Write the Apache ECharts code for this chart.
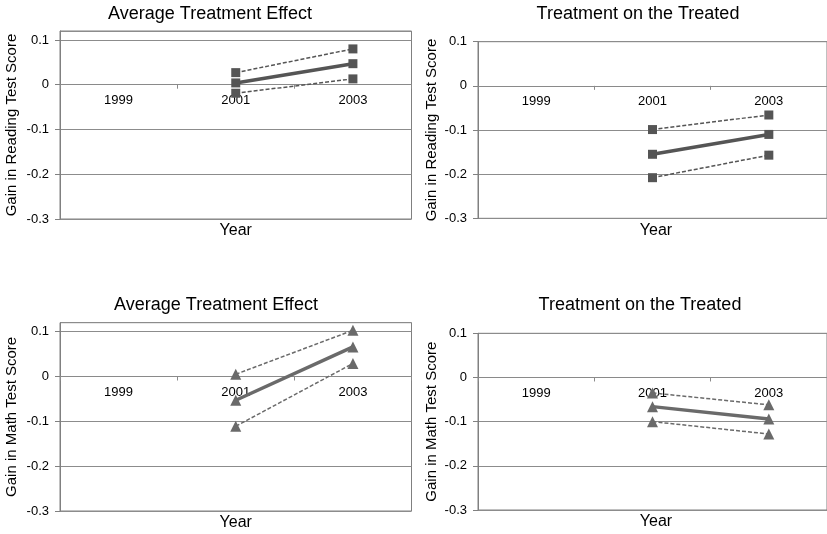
<!DOCTYPE html>
<html>
<head>
<meta charset="utf-8">
<script src="https://cdn.jsdelivr.net/npm/echarts@6/dist/echarts.min.js"></script>
<style>
html,body{margin:0;padding:0;background:#fff;}
#c{width:827px;height:534px;}
</style>
</head>
<body>
<div id="c"></div>
<script>
var years = ['1999', '2001', '2003'];
var yTicks = [-0.3, -0.2, -0.1, 0, 0.1];

var readAteUpper = [null, 0.027, 0.080];
var readAteMid   = [null, 0.004, 0.047];
var readAteLow   = [null, -0.019, 0.013];

var readTotUpper = [null, -0.099, -0.066];
var readTotMid   = [null, -0.155, -0.110];
var readTotLow   = [null, -0.208, -0.157];

var mathAteUpper = [null, 0.005, 0.103];
var mathAteMid   = [null, -0.053, 0.066];
var mathAteLow   = [null, -0.111, 0.029];

var mathTotUpper = [null, -0.035, -0.062];
var mathTotMid   = [null, -0.066, -0.094];
var mathTotLow   = [null, -0.100, -0.128];

var titles = ['Average Treatment Effect', 'Treatment on the Treated', 'Average Treatment Effect', 'Treatment on the Treated'];
var yNames = ['Gain in Reading Test Score', 'Gain in Reading Test Score', 'Gain in Math Test Score', 'Gain in Math Test Score'];
var xName = 'Year';

var FONT = '"Liberation Sans", Arial, sans-serif';
var chart = echarts.init(document.getElementById('c'), null, {renderer: 'canvas'});

var grids = [
  {left: 60, top: 31, width: 351.5, height: 188, max: 0.12, gap: 41},
  {left: 478, top: 41.7, width: 356, height: 176.6, max: 0.1, gap: 39},
  {left: 60, top: 322.7, width: 351.5, height: 188.3, max: 0.12, gap: 41},
  {left: 478, top: 333.3, width: 356, height: 176.7, max: 0.1, gap: 39}
];
var panels = [
  {up: readAteUpper, mid: readAteMid, low: readAteLow, sym: 'rect', size: 9, color: '#555555'},
  {up: readTotUpper, mid: readTotMid, low: readTotLow, sym: 'rect', size: 9, color: '#555555'},
  {up: mathAteUpper, mid: mathAteMid, low: mathAteLow, sym: 'triangle', size: 11, color: '#6a6a6a'},
  {up: mathTotUpper, mid: mathTotMid, low: mathTotLow, sym: 'triangle', size: 11, color: '#6a6a6a'}
];
var titlePos = [[210, 14], [638, 14], [216, 305], [640, 305]];

var gridOpt = [], xAxes = [], yAxes = [], series = [], graphics = [];
grids.forEach(function (g, i) {
  var min = yTicks[0];
  // place the category axis where the value axis crosses zero
  var zeroOffset = -g.height * (0 - min) / (g.max - min);
  gridOpt.push({left: g.left, top: g.top, width: g.width, height: g.height, show: true,
    borderColor: '#808080', borderWidth: 1, containLabel: false});
  xAxes.push({
    type: 'category', gridIndex: i, data: years, boundaryGap: true,
    position: 'bottom', offset: zeroOffset,
    axisLine: {onZero: false, lineStyle: {color: '#8a8a8a', width: 1}},
    axisTick: {show: true, length: 4, alignWithLabel: false, lineStyle: {color: '#8a8a8a'}},
    axisLabel: {color: '#000', fontSize: 13, fontFamily: FONT, margin: 9},
    splitLine: {show: false}
  });
  yAxes.push({
    type: 'value', gridIndex: i, min: min, max: g.max, interval: 0.1,
    name: yNames[i], nameLocation: 'middle', nameGap: g.gap, nameRotate: 90,
    nameTextStyle: {color: '#000', fontSize: 15, fontFamily: FONT},
    axisLine: {show: true, onZero: false, lineStyle: {color: '#808080'}},
    axisTick: {show: true, length: 5, lineStyle: {color: '#808080'}},
    axisLabel: {color: '#000', fontSize: 13, fontFamily: FONT, margin: 11, showMaxLabel: g.max === 0.1,
      formatter: function (v) {
        var r = Math.round(v * 10) / 10;
        if (Math.abs(v - r) > 1e-6) return '';
        return r === 0 ? '0' : String(r);
      }},
    splitLine: {show: true, lineStyle: {color: '#8c8c8c', width: 1}}
  });
  var p = panels[i];
  var common = {type: 'line', xAxisIndex: i, yAxisIndex: i, symbol: p.sym, symbolSize: p.size,
    itemStyle: {color: p.color}, connectNulls: false, silent: true, z: 3};
  series.push(Object.assign({}, common, {data: p.up, lineStyle: {color: p.color, width: 1.5, type: [4, 2]}}));
  series.push(Object.assign({}, common, {data: p.low, lineStyle: {color: p.color, width: 1.5, type: [4, 2]}}));
  series.push(Object.assign({}, common, {data: p.mid, lineStyle: {color: p.color, width: 3.5}, z: 4}));
  graphics.push({type: 'text', x: titlePos[i][0], y: titlePos[i][1],
    style: {text: titles[i], fill: '#000', font: '18px ' + FONT, textAlign: 'center', textVerticalAlign: 'middle'}});
  graphics.push({type: 'text', x: g.left + g.width / 2, y: g.top + g.height + 12,
    style: {text: xName, fill: '#000', font: '16px ' + FONT, textAlign: 'center', textVerticalAlign: 'middle'}});
});

chart.setOption({
  animation: false,
  backgroundColor: '#fff',
  grid: gridOpt,
  xAxis: xAxes,
  yAxis: yAxes,
  series: series,
  graphic: graphics
});
</script>
</body>
</html>
